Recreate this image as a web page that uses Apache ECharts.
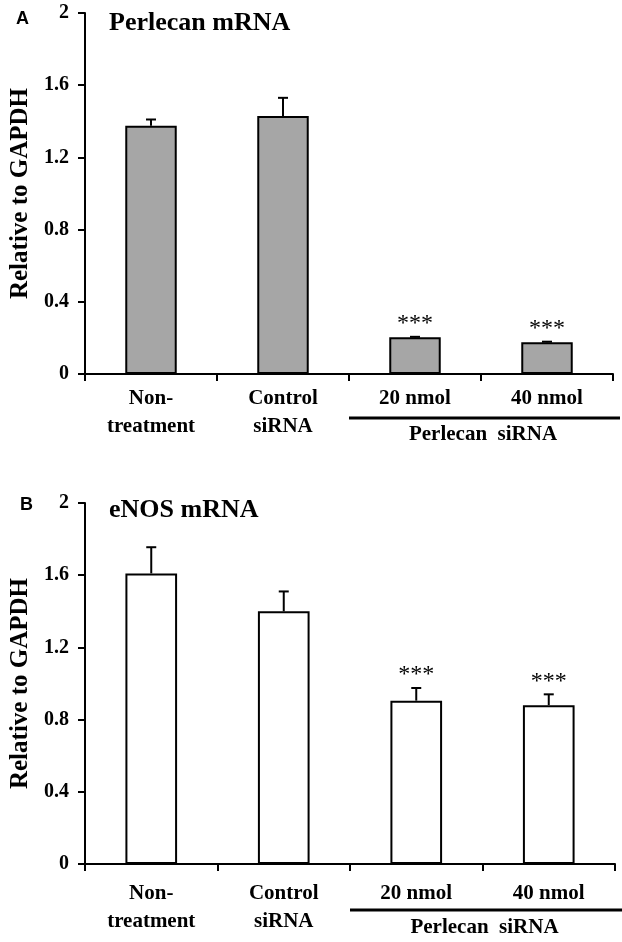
<!DOCTYPE html>
<html>
<head>
<meta charset="utf-8">
<script src="https://cdn.jsdelivr.net/npm/echarts@6/dist/echarts.min.js"></script>
<style>
html,body{margin:0;padding:0;background:#fff;}
#chart{width:622px;height:942px;}
</style>
</head>
<body>
<div id="chart"></div>
<script>
// ---- data ----
const categories = ['Non-\ntreatment', 'Control\nsiRNA', '20 nmol', '40 nmol'];
const perlecanMean = [1.375, 1.43, 0.203, 0.176];
const perlecanErr  = [0.035, 0.10, 0.003, 0.003];
const enosMean     = [1.61, 1.40, 0.905, 0.88];
const enosErr      = [0.145, 0.11, 0.07, 0.06];
const sigMarks     = ['', '', '***', '***'];
const panelTitles  = ['Perlecan mRNA', 'eNOS mRNA'];
const panelLetters = ['A', 'B'];
const yAxisName    = 'Relative to GAPDH';
const groupLabel   = 'Perlecan  siRNA';
const yMin = 0, yMax = 2, yStep = 0.4;

const SERIF = '"Liberation Serif", "Times New Roman", serif';
const SANS = '"Liberation Sans", Arial, sans-serif';

const chart = echarts.init(document.getElementById('chart'), null, {renderer: 'canvas'});

function errItem(params, api) {
  const idx = api.value(0), mean = api.value(1), err = api.value(2);
  const base = api.coord([idx, mean]);
  const top = api.coord([idx, mean + err]);
  const sig = sigMarks[idx];
  const children = [
    {type: 'line', shape: {x1: base[0], y1: base[1], x2: top[0], y2: top[1]}, style: {stroke: '#000', lineWidth: 2}},
    {type: 'line', shape: {x1: top[0] - 5, y1: top[1], x2: top[0] + 5, y2: top[1]}, style: {stroke: '#000', lineWidth: 2}}
  ];
  if (sig) {
    children.push({type: 'text', x: top[0], y: top[1] - 1,
      style: {text: sig, align: 'center', verticalAlign: 'bottom', fontSize: 24, fontFamily: SERIF, fill: '#000'}});
  }
  return {type: 'group', children};
}

function xAxisCfg(gi, margin) {
  return {
    type: 'category', gridIndex: gi, data: categories,
    axisLine: {lineStyle: {color: '#000', width: 2}},
    axisTick: {show: true, length: 7, lineStyle: {color: '#000', width: 2}},
    axisLabel: {interval: 0, margin: margin, color: '#000', fontFamily: SERIF, fontWeight: 'bold', fontSize: 21, lineHeight: 28}
  };
}
function yAxisCfg(gi) {
  return {
    type: 'value', gridIndex: gi, min: yMin, max: yMax, interval: yStep,
    name: yAxisName, nameLocation: 'middle', nameGap: 52,
    nameTextStyle: {color: '#000', fontFamily: SERIF, fontWeight: 'bold', fontSize: 25},
    axisLine: {show: true, lineStyle: {color: '#000', width: 2}},
    axisTick: {show: true, length: 7, lineStyle: {color: '#000', width: 2}},
    splitLine: {show: false},
    axisLabel: {margin: 16, color: '#000', fontFamily: SERIF, fontWeight: 'bold', fontSize: 20}
  };
}

const option = {
  backgroundColor: '#fff',
  animation: false,
  grid: [
    {left: 80, right: 9, top: 13, height: 361},
    {left: 82, right: 7, top: 503, height: 361}
  ],
  xAxis: [xAxisCfg(0, 11), xAxisCfg(1, 16)],
  yAxis: [yAxisCfg(0), yAxisCfg(1)],
  title: [
    {text: panelTitles[0], left: 104, top: 5, textStyle: {fontFamily: SERIF, fontWeight: 'bold', fontSize: 26, color: '#000'}},
    {text: panelTitles[1], left: 104, top: 492, textStyle: {fontFamily: SERIF, fontWeight: 'bold', fontSize: 26, color: '#000'}},
    {text: panelLetters[0], left: 11, top: 5, textStyle: {fontFamily: SANS, fontWeight: 'bold', fontSize: 18, color: '#000'}},
    {text: panelLetters[1], left: 15, top: 491, textStyle: {fontFamily: SANS, fontWeight: 'bold', fontSize: 18, color: '#000'}}
  ],
  series: [
    {type: 'bar', xAxisIndex: 0, yAxisIndex: 0, data: perlecanMean, barWidth: '39%',
      itemStyle: {color: '#a6a6a6', borderColor: '#000', borderWidth: 2}},
    {type: 'custom', xAxisIndex: 0, yAxisIndex: 0, renderItem: errItem, encode: {x: 0, y: 1},
      data: categories.map((c, i) => [i, perlecanMean[i], perlecanErr[i]]), z: 5},
    {type: 'bar', xAxisIndex: 1, yAxisIndex: 1, data: enosMean, barWidth: '39%',
      itemStyle: {color: '#fff', borderColor: '#000', borderWidth: 2}},
    {type: 'custom', xAxisIndex: 1, yAxisIndex: 1, renderItem: errItem, encode: {x: 0, y: 1},
      data: categories.map((c, i) => [i, enosMean[i], enosErr[i]]), z: 5}
  ]
};
chart.setOption(option);

// group bracket under the two Perlecan siRNA categories
const graphics = [];
[[0, 44, 61], [1, 46, 64]].forEach(([gi, lineOff, textOff]) => {
  const c2 = chart.convertToPixel({xAxisIndex: gi}, 2);
  const c3 = chart.convertToPixel({xAxisIndex: gi}, 3);
  const half = (c3 - c2) / 2;
  const y0 = chart.convertToPixel({yAxisIndex: gi}, 0);
  const xl = c2 - half, xr = c3 + half + 7;
  graphics.push({type: 'line', shape: {x1: xl, y1: y0 + lineOff, x2: xr, y2: y0 + lineOff}, style: {stroke: '#000', lineWidth: 3}});
  graphics.push({type: 'text', x: (c2 + c3) / 2 + 2, y: y0 + textOff,
    style: {text: groupLabel, align: 'center', verticalAlign: 'middle', fontFamily: SERIF, fontWeight: 'bold', fontSize: 21, fill: '#000'}});
});
chart.setOption({graphic: graphics});
</script>
</body>
</html>
